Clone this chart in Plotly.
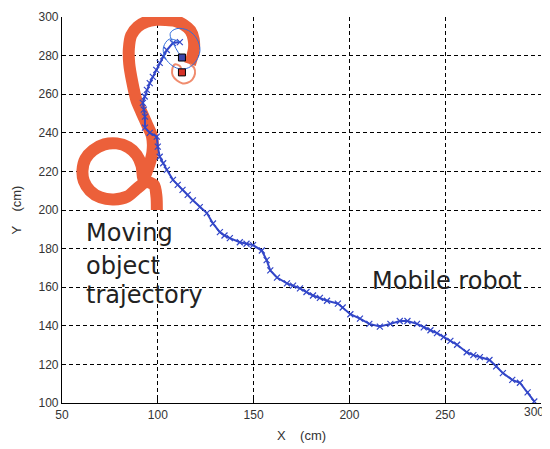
import plotly.graph_objects as go

# Mobile robot trajectory (cm)
robot_x = [296.5, 293.0, 289.0, 285.0, 280.1, 276.6, 273.1, 268.1, 264.7, 261.2, 256.2, 252.7, 249.2, 245.7,
           242.3, 238.8, 235.3, 230.3, 226.3, 221.4, 215.9, 210.4, 205.5, 200.5, 196.5, 194.0, 188.3, 184.6,
           181.0, 177.6, 174.2, 170.6, 167.4, 162.2, 158.7, 156.8, 154.3, 149.7, 146.3, 142.8, 137.6, 134.8,
           132.4, 128.8, 125.6, 121.9, 118.3, 115.6, 112.9, 110.4, 107.9, 104.7, 102.8, 101.0, 100.0, 99.5,
           95.8, 93.3, 93.3, 92.7, 92.2, 93.2, 94.3, 95.8, 97.4, 99.2, 101.0, 102.8, 104.7, 107.9, 111.5]
robot_y = [100.8, 105.5, 110.5, 112, 115.5, 119, 122.3, 123.8, 124.8, 126.3, 130.2, 132.2, 134.2, 136.2, 137.7, 139.2,
           141, 142.5, 142.5, 141, 139.6, 141, 143.7, 146, 149.5, 151.5, 153, 154.5, 155.7, 157.5, 159.4,
           160.8, 162, 165, 168.7, 174, 179, 181.8, 182.5, 183.3, 185.4, 186.8, 188.5, 193,
           198.4, 201.5, 205, 207.8, 210.4, 213, 215.6, 220.8, 224.2, 227.6, 232.8, 238, 240,
           242.7, 248.4, 252, 255.5, 258.8, 262.2, 265.7, 269, 272.6, 276.2, 279.6, 282.9, 286.5, 287]

# Robot final manoeuvre (thin line)
robot_end_x = [111.5, 106.0, 103.0, 103.5, 106.5, 111.0, 116.0, 120.0, 122.0, 120.5, 116.0, 110.0, 106.5, 109.5, 112.6]
robot_end_y = [287, 288.5, 284.5, 279.6, 275.6, 273.2, 273.7, 277.2, 282.6, 288.5, 293, 294, 291.5, 283.6, 279]

# Moving object trajectory (thick stroke)
object_x = [99.5, 99.3, 98.0, 94.0, 89.0, 84.1, 77.1, 70.1, 64.6, 61.4, 60.7, 62.2, 66.2, 72.1, 78.6, 84.6,
            89.0, 91.5, 92.5, 95.0, 97.2, 97.0, 94.5, 91.8, 88.8, 86.6, 85.1, 84.9, 86.1, 89.5, 94.0, 99.0,
            104.0, 109.0, 113.5, 117.0, 118.7, 118.9, 118.0, 116.8]
object_y = [200, 207, 213, 214.5, 211, 207, 205.5, 206.5, 210, 215, 220.5, 226.5, 231, 234, 234.5, 232.5,
            228.5, 223, 216.5, 222, 230, 238, 244, 250, 257, 266.6, 275.7, 283.6, 290.5, 295, 297.5, 298.5,
            298.5, 298, 296, 293, 288.5, 283.8, 279.6, 275.6]

# Moving object final part (thin line)
object_end_x = [116.8, 119.0, 119.4, 118.0, 115.5, 113.0, 110.0, 107.8, 107.5, 108.8, 111.5, 112.6]
object_end_y = [275.6, 273.6, 270.6, 267.6, 265.9, 265.6, 267.1, 269.6, 272.6, 275.4, 274.6, 271.3]

x_ticks = [50, 100, 150, 200, 250, 300]
x_tick_labels = ["50", "100", "150", "200", "250", "300"]
y_ticks = [100, 120, 140, 160, 180, 200, 220, 240, 260, 280, 300]

fig = go.Figure()

fig.add_trace(go.Scatter(x=object_x, y=object_y, mode="lines",
                         line=dict(color="rgb(236,96,58)", width=12, shape="spline", smoothing=0.8),
                         hoverinfo="skip", showlegend=False))
fig.add_trace(go.Scatter(x=object_end_x, y=object_end_y, mode="lines",
                         line=dict(color="rgb(240,140,110)", width=2, shape="spline"),
                         hoverinfo="skip", showlegend=False))
fig.add_trace(go.Scatter(x=robot_x, y=robot_y, mode="lines+markers",
                         line=dict(color="rgb(50,70,200)", width=2),
                         marker=dict(symbol="x-thin-open", size=6,
                                     line=dict(color="rgb(80,150,240)", width=1.2)),
                         hoverinfo="skip", showlegend=False))
fig.add_trace(go.Scatter(x=robot_end_x, y=robot_end_y, mode="lines",
                         line=dict(color="rgb(50,110,220)", width=1, shape="spline"),
                         hoverinfo="skip", showlegend=False))
fig.add_trace(go.Scatter(x=[robot_end_x[-1]], y=[robot_end_y[-1]], mode="markers",
                         marker=dict(symbol="square", size=7, color="rgb(60,70,170)",
                                     line=dict(color="black", width=1)),
                         hoverinfo="skip", showlegend=False))
fig.add_trace(go.Scatter(x=[object_end_x[-1]], y=[object_end_y[-1]], mode="markers",
                         marker=dict(symbol="square", size=7, color="rgb(215,50,40)",
                                     line=dict(color="black", width=1)),
                         hoverinfo="skip", showlegend=False))

tick_font = dict(family="Liberation Sans, Arial", size=12, color="#333")
axis_common = dict(showgrid=True, gridcolor="black", griddash="4px,3px", gridwidth=1,
                   showline=True, linecolor="black", linewidth=1.2, mirror=False,
                   ticks="inside", ticklen=4, tickcolor="black", zeroline=False,
                   automargin=False, tickfont=tick_font)

# last x label sits against the right page edge; it is drawn right-aligned below
fig.update_xaxes(range=[50, 300], tickvals=x_ticks, ticktext=x_tick_labels[:-1] + [""], **axis_common,
                 title=dict(text="X    (cm)", font=dict(family="Liberation Sans, Arial", size=13, color="#333"),
                            standoff=10))
fig.update_yaxes(range=[100, 300], tickvals=y_ticks, **axis_common,
                 title=dict(text="Y    (cm)", font=dict(family="Liberation Sans, Arial", size=13, color="#333"),
                            standoff=13))
fig.add_annotation(x=x_ticks[-1], y=0, xref="x", yref="paper", text=x_tick_labels[-1],
                   showarrow=False, xanchor="right", yanchor="top", xshift=4, yshift=-1,
                   borderpad=0, font=tick_font)

# white backgrounds behind the labels (hide grid lines, as in the original)
fig.add_shape(type="rect", xref="x", yref="y", x0=50.5, x1=124.6, y0=141.6, y1=198.4,
              fillcolor="white", line=dict(width=0), layer="below")
fig.add_shape(type="rect", xref="x", yref="y", x0=201.4, x1=299, y0=153.5, y1=173.1,
              fillcolor="white", line=dict(width=0), layer="below")

txt_font = dict(family="DejaVu Sans", size=24, color="#222")
for label, yy in [("Moving", 187.9), ("object", 170.9), ("trajectory", 156.2)]:
    fig.add_annotation(x=61.6, y=yy, text=label, showarrow=False, xanchor="left",
                       yanchor="middle", font=txt_font)
fig.add_annotation(x=211.0, y=163.3, text="Mobile robot", showarrow=False, xanchor="left",
                   yanchor="middle", font=txt_font)

# the page body adds an 8px offset, so the figure is 8px smaller than the window
fig.update_layout(width=542, height=441, margin=dict(l=54.3, r=9.3, t=8.7, b=45.7),
                  plot_bgcolor="white", paper_bgcolor="white")

fig.write_html("out.html")
